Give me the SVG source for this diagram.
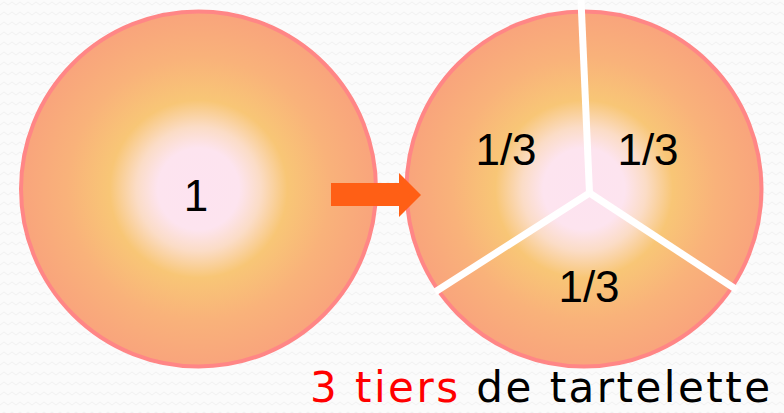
<svg xmlns="http://www.w3.org/2000/svg" width="784" height="413" viewBox="0 0 784 413">
  <style>
    .pie { stroke: #ff8686; stroke-width: 4; }
    .cut { stroke: #ffffff; stroke-width: 7; stroke-linecap: butt; fill: none; }
    .num { font-family: "Liberation Sans", Arial, sans-serif; font-size: 44px; fill: #000000; text-anchor: middle; }
    .cap { font-family: "DejaVu Sans", "Liberation Sans", sans-serif; font-size: 42px; }
  </style>
  <defs>
    <radialGradient id="tart" cx="0.5" cy="0.5" r="0.5">
      <stop offset="0" stop-color="#fde3f0"/>
      <stop offset="0.23" stop-color="#fde4ef"/>
      <stop offset="0.35" stop-color="#fbdcc6"/>
      <stop offset="0.5" stop-color="#f8c676"/>
      <stop offset="0.74" stop-color="#f9b27a"/>
      <stop offset="1" stop-color="#f9a47c"/>
    </radialGradient>
    <pattern id="bg" width="16" height="10" patternUnits="userSpaceOnUse">
      <rect width="16" height="10" fill="#fbfbfb"/>
      <path d="M0 5 L4 2 L8 5 L12 2 L16 5" stroke="#f1f1f1" stroke-width="1" fill="none"/>
    </pattern>
  </defs>
  <rect width="784" height="413" fill="url(#bg)"/>

  <g id="whole">
    <circle class="pie" cx="198.5" cy="189" r="177.5" fill="url(#tart)"/>
    <text class="num" x="196" y="211">1</text>
  </g>

  <g id="thirds">
    <circle class="pie" cx="584" cy="189" r="177.5" fill="url(#tart)"/>
    <path class="cut" d="M581 0 L589.5 193"/>
    <path class="cut" d="M589.5 193 L435 292"/>
    <path class="cut" d="M589.5 193 L737 290"/>
    <text class="num" x="506" y="165">1/3</text>
    <text class="num" x="648" y="165">1/3</text>
    <text class="num" x="589" y="302">1/3</text>
  </g>

  <g id="connectors">
    <path d="M331 183 H399 V173 L421 195 L399 217 V206 H331 Z" fill="#ff5f15"/>
  </g>

  <g id="caption">
    <text class="cap" x="310" y="402" textLength="460" lengthAdjust="spacing"><tspan fill="#ff0000">3 tiers</tspan><tspan fill="#000000"> de tartelette</tspan></text>
  </g>
</svg>
